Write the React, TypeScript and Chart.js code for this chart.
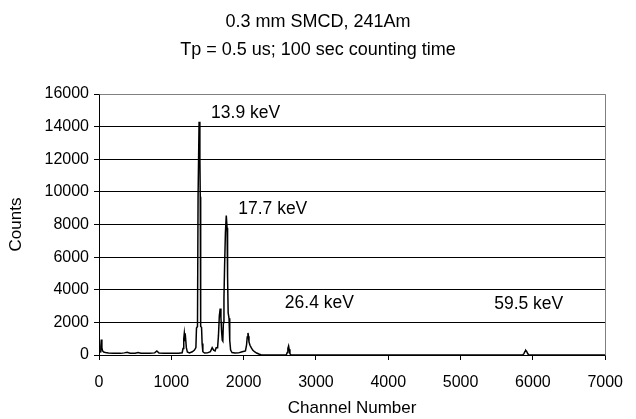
import React, { useEffect, useRef } from "react";
import { Chart, registerables } from "chart.js";

Chart.register(...registerables);

const TITLE_LINES = ["0.3 mm SMCD, 241Am", "Tp = 0.5 us; 100 sec counting time"];
const X_TITLE = "Channel Number";
const Y_TITLE = "Counts";

const CHANNELS = [
  0, 15, 25, 32, 40, 50, 65, 90, 130, 200, 300, 350, 390, 430, 500, 540, 580, 700, 770, 800, 830, 900, 1000, 1100,
  1150, 1162, 1172, 1180, 1188, 1196, 1208, 1222, 1250, 1290, 1320, 1340, 1348, 1362, 1370, 1384, 1395, 1400, 1406,
  1418, 1426, 1436, 1460, 1500, 1540, 1565, 1585, 1605, 1620, 1640, 1652, 1664, 1676, 1686, 1696, 1705, 1712, 1720,
  1728, 1737, 1748, 1760, 1771, 1778, 1786, 1798, 1808, 1820, 1840, 1880, 1930, 1980, 2025, 2040, 2050, 2060, 2067,
  2074, 2088, 2105, 2125, 2150, 2180, 2210, 2240, 2270, 2590, 2603, 2612, 2622, 2630, 2640, 2655, 5860, 5878, 5892,
  5901, 5912, 5928, 5942, 7000,
];
const COUNTS = [
  100, 200, 500, 950, 450, 250, 180, 150, 120, 110, 100, 130, 170, 110, 110, 150, 110, 100, 130, 250, 120, 100, 100, 110,
  140, 400, 1000, 1350, 1000, 1100, 450, 180, 130, 200, 300, 450, 1650, 1750, 9700, 14300, 12100, 9700, 1750,
  1700, 700, 200, 120, 130, 200, 450, 300, 250, 450, 450, 1200, 2400, 2850, 2300, 1400, 900, 850, 2000,
  3500, 5500, 7500, 8550, 7800, 4800, 2600, 2250, 900, 300, 150, 120, 130, 200, 250, 600, 1100, 1350, 1150,
  800, 600, 450, 300, 200, 120, 60, 20, 0, 0, 150, 400, 550, 350, 80, 0, 0, 100, 230,
  280, 230, 90, 0, 0,
];

const X_TICKS = [0, 1000, 2000, 3000, 4000, 5000, 6000, 7000];
const Y_TICKS = [0, 2000, 4000, 6000, 8000, 10000, 12000, 14000, 16000];

const PEAK_LABELS = ["13.9 keV", "17.7 keV", "26.4 keV", "59.5 keV"];
const PEAK_LABEL_CH = [1550, 1925, 2570, 5465];
const PEAK_LABEL_COUNTS = [14800, 8950, 3150, 3100];

const FONT = "'Liberation Sans', Arial, sans-serif";

export default function App() {
  const ref = useRef<HTMLCanvasElement | null>(null);

  useEffect(() => {
    if (!ref.current) return;
    const overlay = {
      id: "overlay",
      afterDraw(chart: any) {
        const { ctx, chartArea, scales } = chart;
        ctx.save();
        ctx.strokeStyle = "#808080";
        ctx.lineWidth = 1;
        ctx.beginPath();
        const l = Math.round(chartArea.left) + 0.5;
        const t = Math.round(chartArea.top) + 0.5;
        const r = Math.round(chartArea.right) + 0.5;
        const b = Math.round(chartArea.bottom) + 0.5;
        ctx.moveTo(l, t);
        ctx.lineTo(r, t);
        ctx.lineTo(r, b);
        ctx.stroke();
        ctx.fillStyle = "#000";
        ctx.textAlign = "center";
        ctx.textBaseline = "middle";
        ctx.font = `18px ${FONT}`;
        ctx.fillText(TITLE_LINES[0], 318, 22);
        ctx.fillText(TITLE_LINES[1], 318, 50);
        ctx.textAlign = "left";
        ctx.font = `17.5px ${FONT}`;
        PEAK_LABELS.forEach((txt, i) => {
          const x = scales.x.getPixelForValue(PEAK_LABEL_CH[i]);
          const y = scales.y.getPixelForValue(PEAK_LABEL_COUNTS[i]);
          ctx.fillText(txt, x, y);
        });
        ctx.restore();
      },
    };

    const chart = new Chart(ref.current, {
      type: "line",
      data: {
        datasets: [
          {
            data: CHANNELS.map((c, i) => ({ x: c, y: COUNTS[i] })),
            borderColor: "#000",
            borderWidth: 1.5,
            pointRadius: 0,
            tension: 0,
            fill: false,
          },
        ],
      },
      options: {
        responsive: false,
        animation: false,
        layout: { padding: { top: 94, right: 21, left: 0, bottom: 0 } },
        plugins: { legend: { display: false }, tooltip: { enabled: false }, title: { display: false } },
        scales: {
          x: {
            type: "linear",
            min: 0,
            max: 7000,
            afterBuildTicks: (s: any) => {
              s.ticks = X_TICKS.map((v) => ({ value: v }));
            },
            afterFit: (s: any) => {
              s.height = 64;
            },
            ticks: {
              color: "#000",
              font: { family: FONT, size: 16 },
              padding: 13,
              maxRotation: 0,
              callback: (v: any) => String(v),
            },
            grid: { display: true, drawOnChartArea: false, drawTicks: true, tickLength: 5, color: "#000" },
            border: { display: true, color: "#000" },
            title: {
              display: true,
              text: X_TITLE,
              color: "#000",
              font: { family: FONT, size: 17 },
              padding: { top: 0, bottom: 0 },
            },
          },
          y: {
            min: 0,
            max: 16000,
            afterBuildTicks: (s: any) => {
              s.ticks = Y_TICKS.map((v) => ({ value: v }));
            },
            afterFit: (s: any) => {
              s.width = 99;
            },
            ticks: { color: "#000", font: { family: FONT, size: 16 }, padding: 5, callback: (v: any) => String(v) },
            grid: { color: "#000", tickLength: 5, drawTicks: true },
            border: { display: true, color: "#000" },
            title: {
              display: true,
              text: Y_TITLE,
              color: "#000",
              font: { family: FONT, size: 17 },
              padding: { top: 6, bottom: 0 },
            },
          },
        },
      },
      plugins: [overlay],
    });
    return () => chart.destroy();
  }, []);

  return (
    <div style={{ position: "absolute", left: 0, top: 0, width: 636, height: 419, background: "#fff" }}>
      <canvas ref={ref} width={636} height={419} />
    </div>
  );
}
